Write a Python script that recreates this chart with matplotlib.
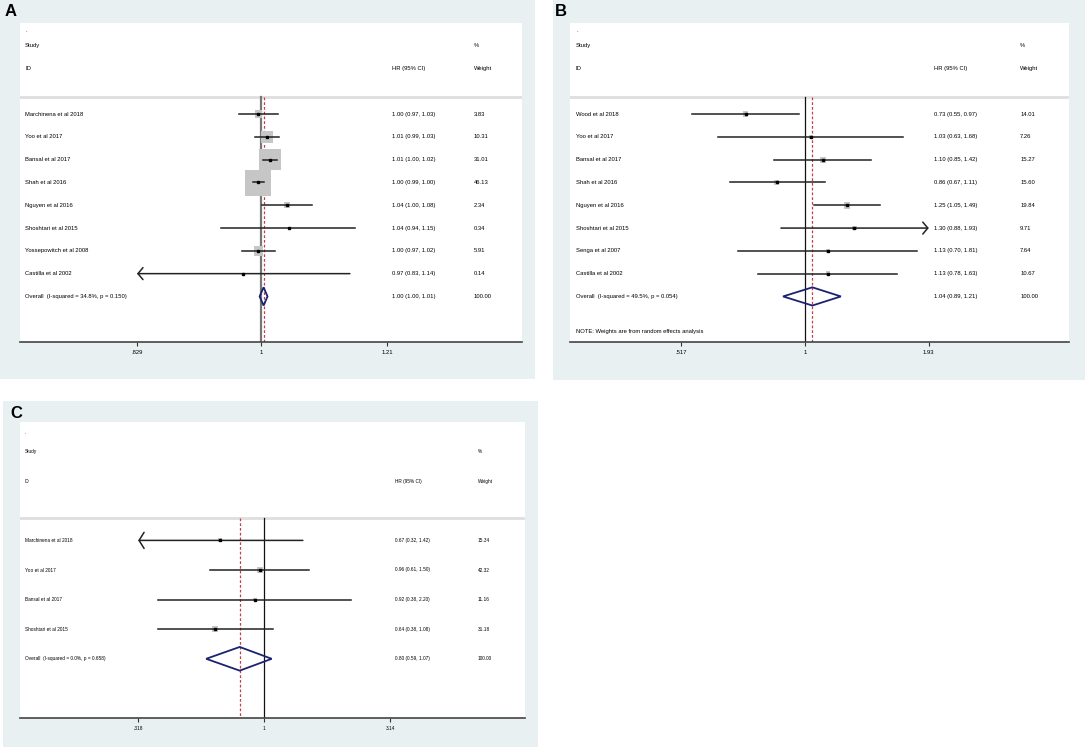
import numpy as np
import matplotlib
matplotlib.use("Agg")
import matplotlib.pyplot as plt
from matplotlib.patches import Rectangle, Polygon

plt.rcParams['font.family'] = ['Liberation Sans', 'DejaVu Sans']

# ---- panel A data ----
a_study = ['Marchinena et al 2018', 'Yoo et al 2017', 'Bansal et al 2017', 'Shah et al 2016',
           'Nguyen et al 2016', 'Shoshtari et al 2015', 'Yossepowitch et al 2008', 'Castilla et al 2002']
a_hr = [0.996, 1.009, 1.014, 0.996, 1.040, 1.043, 0.996, 0.973]
a_lo = [0.967, 0.991, 1.003, 0.988, 1.001, 0.941, 0.972, 0.829]
a_hi = [1.026, 1.028, 1.024, 1.004, 1.080, 1.153, 1.021, 1.144]
a_wt = [3.83, 10.31, 31.01, 46.13, 2.34, 0.34, 5.91, 0.14]
a_overall = [1.004, 0.998, 1.010]
a_het = 'Overall  (I-squared = 34.8%, p = 0.150)'
a_ticks = [0.829, 1, 1.21]
a_ticklabels = ['.829', '1', '1.21']

# ---- panel B data ----
b_study = ['Wood et al 2018', 'Yoo et al 2017', 'Bansal et al 2017', 'Shah et al 2016',
           'Nguyen et al 2016', 'Shoshtari et al 2015', 'Senga et al 2007', 'Castilla et al 2002']
b_hr = [0.73, 1.03, 1.10, 0.86, 1.25, 1.30, 1.13, 1.13]
b_lo = [0.55, 0.63, 0.85, 0.67, 1.05, 0.88, 0.70, 0.78]
b_hi = [0.97, 1.68, 1.42, 1.11, 1.49, 1.93, 1.81, 1.63]
b_wt = [14.01, 7.26, 15.27, 15.60, 19.84, 9.71, 7.64, 10.67]
b_overall = [1.04, 0.89, 1.21]
b_het = 'Overall  (I-squared = 49.5%, p = 0.054)'
b_note = 'NOTE: Weights are from random effects analysis'
b_ticks = [0.517, 1, 1.93]
b_ticklabels = ['.517', '1', '1.93']

# ---- panel C data ----
c_study = ['Marchinena et al 2018', 'Yoo et al 2017', 'Bansal et al 2017', 'Shoshtari et al 2015']
c_hr = [0.67, 0.96, 0.92, 0.64]
c_lo = [0.318, 0.61, 0.38, 0.38]
c_hi = [1.42, 1.50, 2.20, 1.08]
c_wt = [15.34, 42.32, 11.16, 31.18]
c_overall = [0.80, 0.59, 1.07]
c_het = 'Overall  (I-squared = 0.0%, p = 0.658)'
c_ticks = [0.318, 1, 3.14]
c_ticklabels = ['.318', '1', '3.14']

W, H = 1085, 756
PANEL_BG = '#e8f0f2'


def fig_rect(x0, y0, x1, y1):
    return [x0 / W, 1 - y1 / H, (x1 - x0) / W, (y1 - y0) / H]


def forest(ax, study, hr, lo, hi, wt, overall, het, ticks, ticklabels, tfrac, cols,
           box_px, fs, null_color, null_lw, head, note=None):
    n = len(study)
    bottom = n + 2
    ax.set_ylim(bottom, -4)
    # log x range so the end ticks land where they do in the picture
    span = (np.log(ticks[-1]) - np.log(ticks[0])) / (tfrac[1] - tfrac[0])
    left = np.log(ticks[0]) - tfrac[0] * span
    ax.set_xscale('log')
    ax.set_xlim(np.exp(left), np.exp(left + span))
    ax.set_xticks(ticks)
    ax.set_xticklabels(ticklabels)
    ax.xaxis.set_minor_locator(matplotlib.ticker.NullLocator())
    ax.tick_params(axis='x', direction='out', length=3, width=0.8, colors='#333333',
                   labelsize=fs, pad=2.5, labelcolor='black')
    ax.set_yticks([])
    for s in ['left', 'right', 'top']:
        ax.spines[s].set_visible(False)
    ax.spines['bottom'].set_linewidth(1.2)
    ax.spines['bottom'].set_color('#444444')

    tr = ax.get_yaxis_transform()
    # header
    ax.text(cols[0], -3.65, '.', transform=tr, fontsize=fs, va='center')
    ax.text(cols[0], -3, 'Study', transform=tr, fontsize=fs, va='center')
    ax.text(cols[0], -2, 'ID', transform=tr, fontsize=fs, va='center')
    ax.text(cols[1], -2, 'HR (95% CI)', transform=tr, fontsize=fs, va='center')
    ax.text(cols[2], -3, '%', transform=tr, fontsize=fs, va='center')
    ax.text(cols[2], -2, 'Weight', transform=tr, fontsize=fs, va='center')
    ax.axhline(-0.75, color='#dedede', lw=2, zorder=1)

    ax.plot([1, 1], [-0.75, bottom], color=null_color, lw=null_lw, zorder=1)
    ax.plot([overall[0]] * 2, [-0.75, bottom], color='#c0404a', lw=0.9,
            ls=(0, (2.2, 1.6)), zorder=1)

    wmax = max(wt)
    rows = np.arange(n)
    side = box_px * np.sqrt(np.array(wt) / wmax) * 0.72
    ax.scatter(hr, rows, s=side ** 2, marker='s', color='#c6c6c6', linewidths=0, zorder=2)

    for i in range(n):
        x0, x1 = lo[i], hi[i]
        cut_l = x0 <= ticks[0] + 1e-9
        cut_r = x1 >= ticks[-1] - 1e-9
        style = '->,head_length=%.2f,head_width=%.2f' % (head[0] / 13.9, head[1] / 13.9)
        if cut_l:
            ax.annotate('', xy=(ticks[0], i), xytext=(x1, i),
                        arrowprops=dict(arrowstyle=style, lw=1.1, color='#222222',
                                        shrinkA=0, shrinkB=0), zorder=3)
        elif cut_r:
            ax.annotate('', xy=(ticks[-1], i), xytext=(x0, i),
                        arrowprops=dict(arrowstyle=style, lw=1.1, color='#222222',
                                        shrinkA=0, shrinkB=0), zorder=3)
        else:
            ax.plot([x0, x1], [i, i], color='#222222', lw=1.1, zorder=3)
        ax.text(cols[0], i, study[i], transform=tr, fontsize=fs, va='center')
        ax.text(cols[1], i, '%.2f (%.2f, %.2f)' % (hr[i], lo[i], hi[i]), transform=tr,
                fontsize=fs, va='center')
        ax.text(cols[2], i, '%.2f' % wt[i], transform=tr, fontsize=fs, va='center')
    ax.plot(hr, rows, 's', ms=1.7, color='black', zorder=4)

    est, olo, ohi = overall
    dia = Polygon([(olo, n), (est, n - 0.4), (ohi, n), (est, n + 0.4)], closed=True,
                  facecolor='none', edgecolor='#1b2270', lw=1.3, zorder=5)
    ax.add_patch(dia)
    ax.text(cols[0], n, het, transform=tr, fontsize=fs, va='center')
    ax.text(cols[1], n, '%.2f (%.2f, %.2f)' % (est, olo, ohi), transform=tr,
            fontsize=fs, va='center')
    ax.text(cols[2], n, '100.00', transform=tr, fontsize=fs, va='center')
    if note:
        ax.text(cols[0], n + 1.56, note, transform=tr, fontsize=fs, va='center')


fig = plt.figure(figsize=(W / 100, H / 100), dpi=100)
fig.patch.set_facecolor('white')

# light blue graph regions
for x0, y0, x1, y1 in [(0, 0, 535, 379), (553, 0, 1085, 380), (3, 401, 538, 747)]:
    r = fig_rect(x0, y0, x1, y1)
    fig.add_artist(Rectangle((r[0], r[1]), r[2], r[3], transform=fig.transFigure,
                             facecolor=PANEL_BG, edgecolor='none', zorder=0))

axA = fig.add_axes(fig_rect(20, 23, 522, 342))
forest(axA, a_study, a_hr, a_lo, a_hi, a_wt, a_overall, a_het, a_ticks, a_ticklabels,
       (0.233, 0.731), (0.010, 0.741, 0.904), 26, 4.2, '#777777', 1.6, (5, 6))

axB = fig.add_axes(fig_rect(570, 23, 1069, 342))
forest(axB, b_study, b_hr, b_lo, b_hi, b_wt, b_overall, b_het, b_ticks, b_ticklabels,
       (0.222, 0.719), (0.012, 0.729, 0.902), 6.5, 4.2, '#111111', 0.9, (5, 6), note=b_note)

axC = fig.add_axes(fig_rect(20, 422, 525, 718))
forest(axC, c_study, c_hr, c_lo, c_hi, c_wt, c_overall, c_het, c_ticks, c_ticklabels,
       (0.234, 0.733), (0.010, 0.743, 0.907), 6.5, 3.4, '#111111', 0.9, (5, 8))

for lab, x, y in [('A', 5, 4), ('B', 555, 4), ('C', 10, 406)]:
    fig.text(x / W, 1 - y / H, lab, fontsize=12, fontweight='bold', ha='left', va='top')

fig.savefig('out.png', dpi=100, facecolor='white')
